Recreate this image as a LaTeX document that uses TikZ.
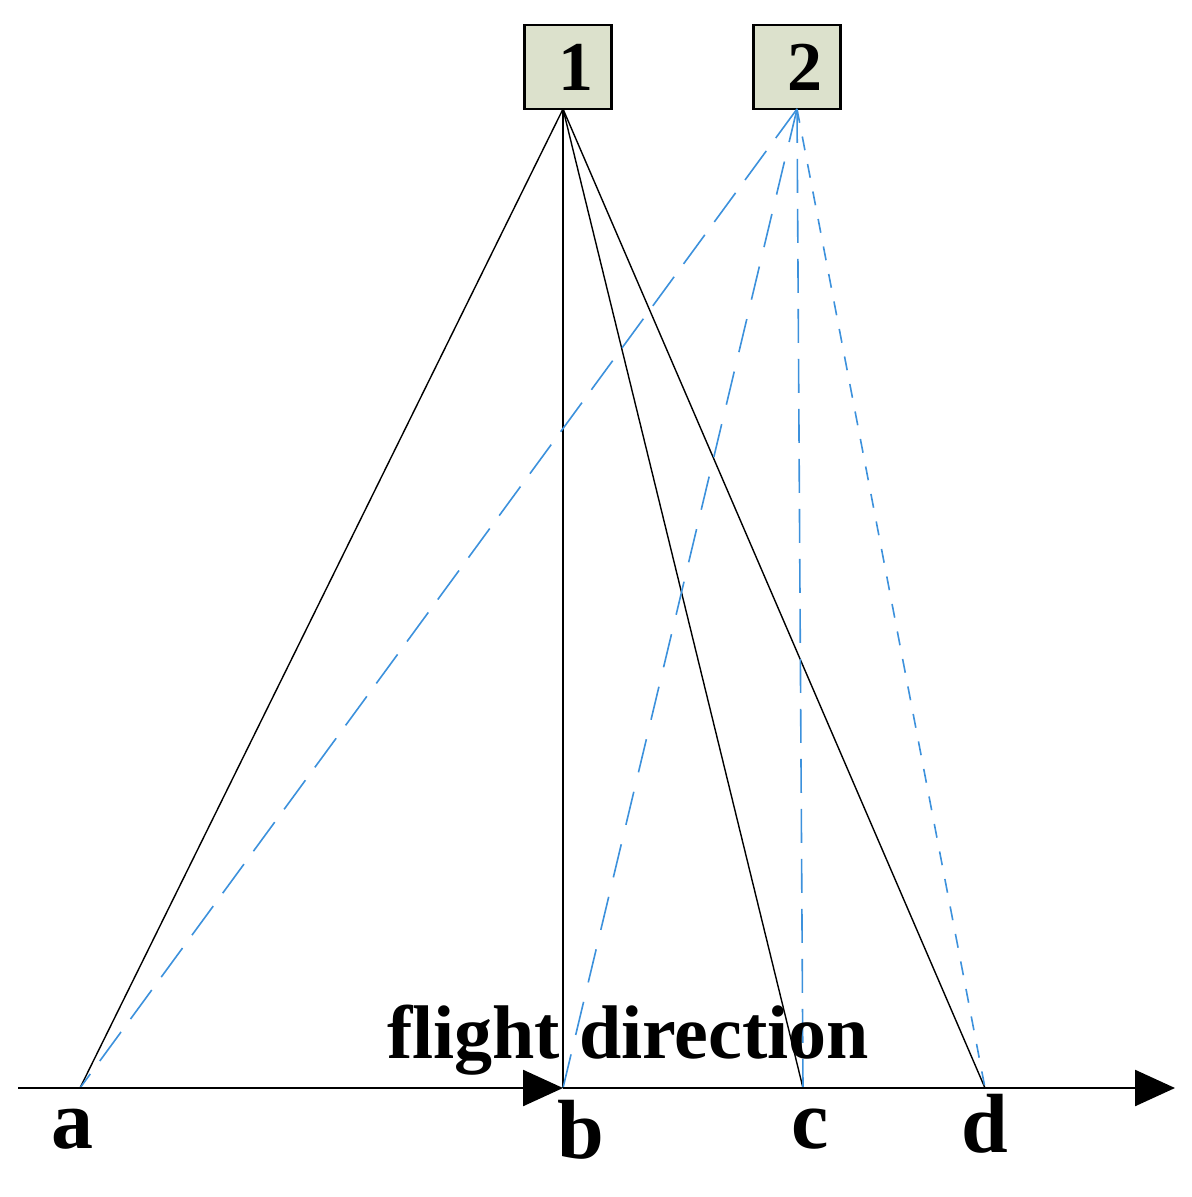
\documentclass[tikz,border=0pt]{standalone}
\usepackage{fontspec}
\setmainfont{Liberation Serif}
\usetikzlibrary{arrows.meta}
\definecolor{boxfill}{RGB}{220,225,204}
\definecolor{rayblue}{RGB}{60,145,220}
\tikzset{
    station/.style={draw=black,line width=1.3pt,fill=boxfill,minimum width=43.5pt,minimum height=42pt,inner sep=0pt,font=\fontsize{35}{35}\selectfont\bfseries},
    ray/.style={line width=0.7pt,black},
    blueray/.style={line width=0.8pt,rayblue},
    tip/.style={-{Triangle[length=20pt,width=18pt]}}
}
\begin{document}
\begin{tikzpicture}[x=0.5pt,y=-0.5pt]
    \useasboundingbox (0,0) rectangle (1191,1197);
    \node[station] (s1) at (568,67) {\kern8pt 1};
    \node[station] (s2) at (797,67) {\kern8pt 2};
    \coordinate (p1) at (563,109);
    \coordinate (p2) at (797,109);

    \coordinate (start) at (18,1088);
    \coordinate (a) at (80,1088);
    \coordinate (b) at (563,1088);
    \coordinate (c) at (803,1088);
    \coordinate (d) at (985,1088);
    \coordinate (end) at (1175,1088);

    % rays from 1
    \draw[ray] (p1) -- (a);
    \draw[ray] (p1) -- (b);
    \draw[ray] (p1) -- (c);
    \draw[ray] (p1) -- (d);
    % rays from 2
    \draw[blueray,dash pattern=on 18pt off 8pt] (p2) -- (a);
    \draw[blueray,dash pattern=on 17pt off 10pt] (p2) -- (b);
    \draw[blueray,dash pattern=on 17pt off 8pt] (p2) -- (c);
    \draw[blueray,dash pattern=on 7pt off 7pt] (p2) -- (d);

    % flight axis
    \draw[line width=1.2pt,tip] (start) -- (b);
    \draw[line width=1.2pt,tip] (b) -- (end);

    \node[anchor=base,font=\fontsize{38}{38}\selectfont\bfseries] (lflight) at (628,1058) {flight direction};
    \node[anchor=base,font=\fontsize{42}{42}\selectfont\bfseries] (la) at (72,1148) {a};
    \node[anchor=base,font=\fontsize{42}{42}\selectfont\bfseries] (lb) at (581,1158) {b};
    \node[anchor=base,font=\fontsize{42}{42}\selectfont\bfseries] (lc) at (810,1148) {c};
    \node[anchor=base,font=\fontsize{42}{42}\selectfont\bfseries] (ld) at (985,1152) {d};
\end{tikzpicture}
\end{document}
